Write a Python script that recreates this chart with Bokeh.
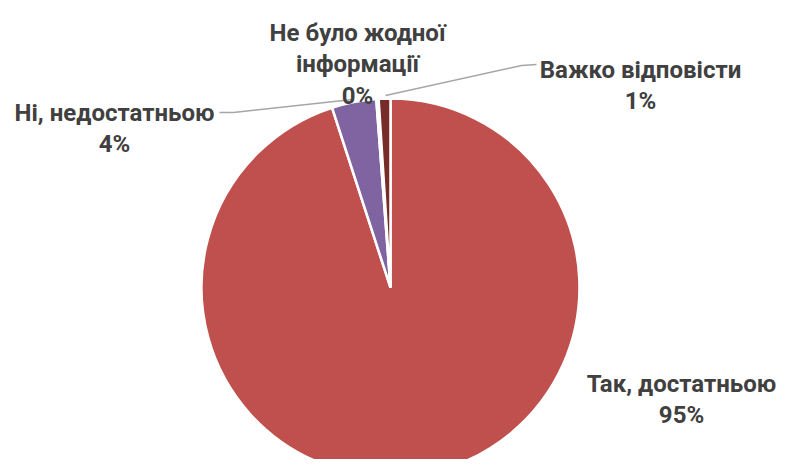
import math
from bokeh.plotting import figure
from bokeh.models import Range1d, ColumnDataSource
from bokeh.core.properties import value
from bokeh.embed import file_html
from bokeh.resources import INLINE

# ---- data ----
categories = ["Так, достатньою", "Ні, недостатньою", "Не було жодної інформації", "Важко відповісти"]
label_lines = [["Так, достатньою"], ["Ні, недостатньою"], ["Не було жодної", "інформації"], ["Важко відповісти"]]
values = [95.0, 3.8, 0.2, 1.0]
pct_labels = ["95%", "4%", "0%", "1%"]
colors = ["#C0504D", "#8064A2", "#9BBB59", "#772C2A"]

# ---- layout (image pixel coords; y plotted as negative) ----
W, H = 777, 459
OX, OY = 0, 0
cx, cy, R = 390, 287, 189
label_anchor = [(681, 383), (114, 112), (357, 32), (640, 69)]  # centre x, first baseline
line_gap = 31.5
leaders = {1: [(219, 112), (233, 112), (352, 99)],
           3: [(385, 95), (521, 65), (536, 64)]}

p = figure(width=W, height=H, output_backend="svg", toolbar_location=None,
           x_range=Range1d(OX, OX + W), y_range=Range1d(-(OY + H), -OY),
           min_border=0, outline_line_color=None, background_fill_color="white",
           border_fill_color="white")
p.axis.visible = False
p.grid.visible = False

total = sum(values)
starts, ends = [], []
acc = 0.0
for v in values:
    starts.append(math.radians(90 - acc / total * 360))
    acc += v
    ends.append(math.radians(90 - acc / total * 360))

src = ColumnDataSource(dict(start=starts, end=ends, color=colors, cat=categories))
p.wedge(x=cx, y=-cy, radius=R, start_angle="start", end_angle="end",
        direction="clock", fill_color="color", line_color="white", line_width=2.5, source=src)

# leader lines
for i, pts in leaders.items():
    p.line([q[0] for q in pts], [-q[1] for q in pts], line_color="#A6A6A6", line_width=1.5)

tx, ty, tt = [], [], []
for i, lines in enumerate(label_lines):
    ax, ay = label_anchor[i]
    for k, ln in enumerate(lines + [pct_labels[i]]):
        tx.append(ax)
        ty.append(-(ay + k * line_gap))
        tt.append(ln)

p.text(x=tx, y=ty, text=tt, text_align="center", text_baseline="alphabetic",
       text_font=value("Roboto"), text_font_style="bold",
       text_font_size="24px", text_color="#404040")

open("out.html", "w").write(file_html(p, INLINE))
